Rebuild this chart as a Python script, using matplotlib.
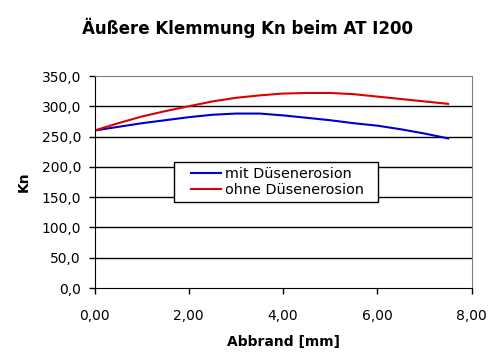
import matplotlib
matplotlib.use("Agg")
import matplotlib.pyplot as plt
from matplotlib.legend_handler import HandlerLine2D
from matplotlib.ticker import FuncFormatter, MultipleLocator

# Abbrand [mm]
abbrand = [0.0, 0.5, 1.0, 1.5, 2.0, 2.5, 3.0, 3.5, 4.0, 4.5, 5.0, 5.5, 6.0, 6.5, 7.0, 7.5]
mit_erosion = [260, 266, 272, 277, 282, 286, 288, 288, 285, 281, 277, 272, 268, 262, 255, 247]
ohne_erosion = [260, 272, 283, 292, 300, 308, 314, 318, 321, 322, 322, 320, 316, 312, 308, 304]

plt.rcParams["font.family"] = "DejaVu Sans"

fig = plt.figure(figsize=(4.94, 3.55), dpi=100)
ax = fig.add_axes([94.5 / 494, 1 - 288 / 355, (471.7 - 94.5) / 494, (288 - 76) / 355])

l1, = ax.plot(abbrand, mit_erosion, color="#0000cc", lw=1.5, label="mit Düsenerosion")
l2, = ax.plot(abbrand, ohne_erosion, color="#dd0000", lw=1.5, label="ohne Düsenerosion")

ax.set_xlim(0, 8)
ax.set_ylim(0, 350)
ax.xaxis.set_major_locator(MultipleLocator(2))
ax.yaxis.set_major_locator(MultipleLocator(50))
ax.xaxis.set_major_formatter(FuncFormatter(lambda v, p: f"{v:.2f}".replace(".", ",")))
ax.yaxis.set_major_formatter(FuncFormatter(lambda v, p: f"{v:.1f}".replace(".", ",")))
ax.tick_params(labelsize=10, length=4, width=1, color="black")
ax.tick_params(axis="x", pad=11)
ax.tick_params(axis="y", pad=5.8)

for y in range(50, 350, 50):
    ax.axhline(y, color="black", lw=1, zorder=0)

ax.spines["left"].set_color("black")
ax.spines["bottom"].set_color("black")
ax.spines["top"].set_color("#808080")
ax.spines["right"].set_color("#808080")

ax.set_xlabel("Abbrand [mm]", fontsize=10, fontweight="bold", labelpad=9)
ax.set_ylabel("Kn", fontsize=10, fontweight="bold", labelpad=8)
fig.suptitle("Äußere Klemmung Kn beim AT I200", x=0.5, y=1 - 18 / 355,
             fontsize=12, fontweight="bold", va="top")

hm = {l1: HandlerLine2D(xpad=0.8), l2: HandlerLine2D(xpad=0.8)}
leg = ax.legend(loc="upper left",
                bbox_to_anchor=(174 / 494, 1 - 203.3 / 355, (378.3 - 174) / 494, 41.6 / 355),
                bbox_transform=fig.transFigure, mode="expand", borderaxespad=0,
                fontsize=10.4, frameon=True, fancybox=False, framealpha=1,
                edgecolor="black", handlelength=2.9, handletextpad=0.25,
                labelspacing=0.1, borderpad=0.38, handler_map=hm)
leg.get_frame().set_linewidth(1)

fig.savefig("out.png", dpi=100)
